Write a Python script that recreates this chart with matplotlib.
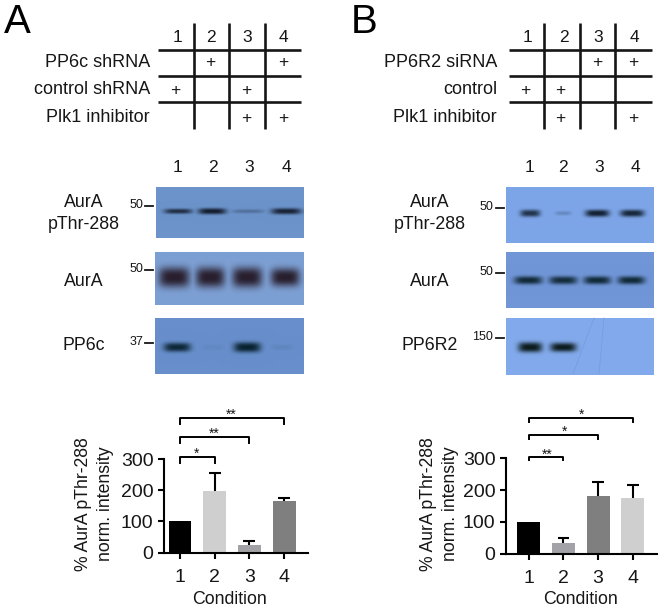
import numpy as np
import matplotlib
matplotlib.use("Agg")
import matplotlib.pyplot as plt

plt.rcParams['font.family'] = ['Liberation Sans', 'DejaVu Sans']

W, H = 662, 610
INK = '#161616'

# Bar chart data
conditions = [1, 2, 3, 4]
a_values = [100, 198, 25, 165]
a_errors = [0, 57, 11, 11]
a_colors = ['#000000', '#cfcfcf', '#a2a2a6', '#7f7f7f']
b_values = [100, 33, 183, 176]
b_errors = [0, 17, 44, 40]
b_colors = ['#000000', '#a2a2a8', '#7f7f7f', '#cfcfcf']

# Treatment tables
a_rows = ['PP6c shRNA', 'control shRNA', 'Plk1 inhibitor']
a_plus = [[0, 1, 0, 1], [1, 0, 1, 0], [0, 0, 1, 1]]
b_rows = ['PP6R2 siRNA', 'control', 'Plk1 inhibitor']
b_plus = [[0, 0, 1, 1], [1, 1, 0, 0], [0, 1, 0, 1]]

# Blot band strength per lane (estimated)
a_pthr = [0.85, 1.00, 0.30, 0.95]
a_aura = [1.00, 1.00, 1.00, 1.00]
a_pp6c = [0.95, 0.06, 1.00, 0.08]
b_pthr = [0.85, 0.22, 1.00, 0.95]
b_aura = [0.95, 0.92, 0.95, 0.95]
b_pp6r2 = [1.00, 1.00, 0.00, 0.00]

fig = plt.figure(figsize=(W / 100, H / 100), dpi=100)

# full figure axes in pixel units for the non chart parts
page = fig.add_axes([0, 0, 1, 1])
page.set_xlim(0, W)
page.set_ylim(H, 0)
page.axis('off')


def draw_table(rows, plus, vlines, hx, label_x, num_x, plus_x):
    for x in vlines:
        page.plot([x, x], [23, 129], color=INK, lw=1.9, solid_capstyle='butt')
    for y in [49.5, 76, 102]:
        page.plot(hx, [y, y], color=INK, lw=1.9, solid_capstyle='butt')
    for i, x in enumerate(num_x):
        page.text(x, 37, str(i + 1), ha='center', va='center', fontsize=12.5, color=INK)
    for r, name in enumerate(rows):
        y = [62.5, 90, 118][r]
        page.text(label_x, y, name, ha='right', va='center', fontsize=13, color=INK)
        for c, on in enumerate(plus[r]):
            if on:
                page.text(plus_x[c], y, '+', ha='center', va='center', fontsize=12.5, color=INK)


def draw_blot(box, strength, lanes, widths, heights, band_y, bg, dark):
    # builds the band picture on a pixel grid and shows it in the given box
    x0, x1, y0, y1 = box
    xx, yy = np.meshgrid(np.arange(x0, x1, 0.5), np.arange(y0, y1, 0.5))
    amount = np.zeros(xx.shape)
    for s, cx, w, h in zip(strength, lanes, widths, heights):
        band = s * np.exp(-(np.abs(xx - cx) / (w / 2)) ** 4) * np.exp(-(np.abs(yy - band_y) / (h / 2)) ** 2.6)
        amount = np.maximum(amount, band)
    amount = amount[..., None]
    img = (1 - amount) * np.array(bg) / 255 + amount * np.array(dark) / 255
    page.imshow(img, extent=[x0, x1, y1, y0], aspect='auto', interpolation='bilinear', zorder=1)


def draw_bars(x_left, x_right, y_top, y_zero, xlim, values, errors, colors, brackets):
    ax = fig.add_axes([x_left / W, 1 - y_zero / H, (x_right - x_left) / W, (y_zero - y_top) / H])
    ax.patch.set_alpha(0)
    ax.bar(conditions, values, width=0.66, color=colors)
    # upper error bars only, nothing on the reference condition
    for c, v, e in zip(conditions, values, errors):
        if e > 0:
            ax.plot([c, c], [v, v + e], color='black', lw=1.5, solid_capstyle='butt')
            ax.plot([c - 0.17, c + 0.17], [v + e, v + e], color='black', lw=1.5, solid_capstyle='butt')
    ax.set_xlim(*xlim)
    ax.set_ylim(0, 300)
    ax.set_xticks(conditions)
    ax.set_yticks([0, 100, 200, 300])
    ax.tick_params(axis='both', width=1.5, length=4.5, labelsize=14, pad=3, labelcolor=INK)
    ax.tick_params(axis='x', pad=7)
    ax.spines['top'].set_visible(False)
    ax.spines['right'].set_visible(False)
    ax.spines['left'].set_linewidth(1.5)
    ax.spines['bottom'].set_linewidth(1.5)
    for end, top, tip, stars, star_x in brackets:
        ax.plot([1, 1, end, end], [tip, top, top, tip], color='black', lw=1.4, clip_on=False)
        ax.text(star_x, top - 3, stars, ha='center', va='baseline', fontsize=10, color=INK, clip_on=False)
    return ax


# Panel A
page.text(4, 33, 'A', fontsize=29, ha='left', va='baseline', color='black')
draw_table(a_rows, a_plus, [193.5, 229, 265], [158, 301], 150, [177, 211, 247, 283], [175, 210, 246.5, 283])
for x, n in zip([178, 213, 249, 286], conditions):
    page.text(x, 168, str(n), ha='center', va='center', fontsize=12.5, color=INK)
draw_blot((156, 304, 187, 238), a_pthr, [178, 212, 248, 286], [28, 28, 32, 30], [5, 6, 4, 6], 211, (108, 148, 203), (20, 28, 45))
draw_blot((155, 304, 252, 305), a_aura, [174, 210, 247, 285], [31, 29, 30, 29], [20, 20, 20, 18], 277, (125, 160, 212), (40, 30, 45))
draw_blot((155, 304, 318, 374), a_pp6c, [177, 213, 247, 282], [27, 22, 27, 22], [9, 6, 10, 6], 347, (104, 143, 204), (8, 34, 48))
for y, name in [(213.5, 'AurA\npThr-288'), (281.5, 'AurA'), (346, 'PP6c')]:
    page.text(84, y, name, ha='center', va='center', fontsize=12.8, color=INK, linespacing=1.34)
for y, mw in [(205, '50'), (269, '50'), (342, '37')]:
    page.text(143, y, mw, ha='right', va='center', fontsize=9, color=INK)
    page.plot([145, 153], [y + 1, y + 1], color=INK, lw=1.3)
draw_bars(164, 308, 459, 552.7, (0.54, 4.69), a_values, a_errors, a_colors,
          [(2, 306, 287, '*', 1.49), (3, 372, 351, '**', 1.98), (4, 431, 412, '**', 2.47)])
page.text(94.5, 504, '% AurA pThr-288\nnorm. intensity', rotation=90, ha='center', va='center',
          fontsize=12.7, color=INK, linespacing=1.38)
page.text(229.5, 600, 'Condition', ha='center', va='center', fontsize=12.8, color=INK)

# Panel B
page.text(351, 33, 'B', fontsize=29, ha='left', va='baseline', color='black')
draw_table(b_rows, b_plus, [544, 579.5, 615], [509, 652], 497, [527, 563.5, 598, 634], [525, 560, 597, 633.5])
for x, n in zip([529, 563, 599, 635], conditions):
    page.text(x, 168, str(n), ha='center', va='center', fontsize=12.5, color=INK)
draw_blot((506, 654, 187, 243), b_pthr, [530, 563, 597, 632], [20, 16, 24, 24], [7, 4, 7, 7], 213, (125, 165, 232), (18, 32, 48))
draw_blot((506, 654, 252, 308), b_aura, [528, 563, 597, 631], [28, 28, 27, 27], [8, 8, 8, 8], 280, (113, 150, 216), (12, 36, 48))
draw_blot((506, 654, 318, 375), b_pp6r2, [530, 563, 597, 632], [24, 26, 20, 20], [10, 9, 8, 8], 347, (130, 170, 236), (12, 28, 30))
# faint scratches on the PP6R2 blot
page.plot([594, 573], [318, 374], color='#6f97d6', lw=0.6, alpha=0.6, zorder=2)
page.plot([604, 599], [318, 374], color='#6f97d6', lw=0.6, alpha=0.6, zorder=2)
for y, name in [(213.5, 'AurA\npThr-288'), (281.5, 'AurA'), (346, 'PP6R2')]:
    page.text(430, y, name, ha='center', va='center', fontsize=12.8, color=INK, linespacing=1.34)
for y, mw in [(207, '50'), (272, '50'), (337, '150')]:
    page.text(493, y, mw, ha='right', va='center', fontsize=9, color=INK)
    page.plot([496, 504], [y + 1, y + 1], color=INK, lw=1.3)
draw_bars(506, 656.7, 458.3, 553.7, (0.345, 4.69), b_values, b_errors, b_colors,
          [(2, 303, 295, '**', 1.53), (3, 373, 360, '*', 2.02), (4, 426, 415, '*', 2.51)])
page.text(439.5, 504, '% AurA pThr-288\nnorm. intensity', rotation=90, ha='center', va='center',
          fontsize=12.7, color=INK, linespacing=1.38)
page.text(580, 600, 'Condition', ha='center', va='center', fontsize=12.8, color=INK)

page.set_xlim(0, W)
page.set_ylim(H, 0)

plt.savefig('out.png', dpi=100)
